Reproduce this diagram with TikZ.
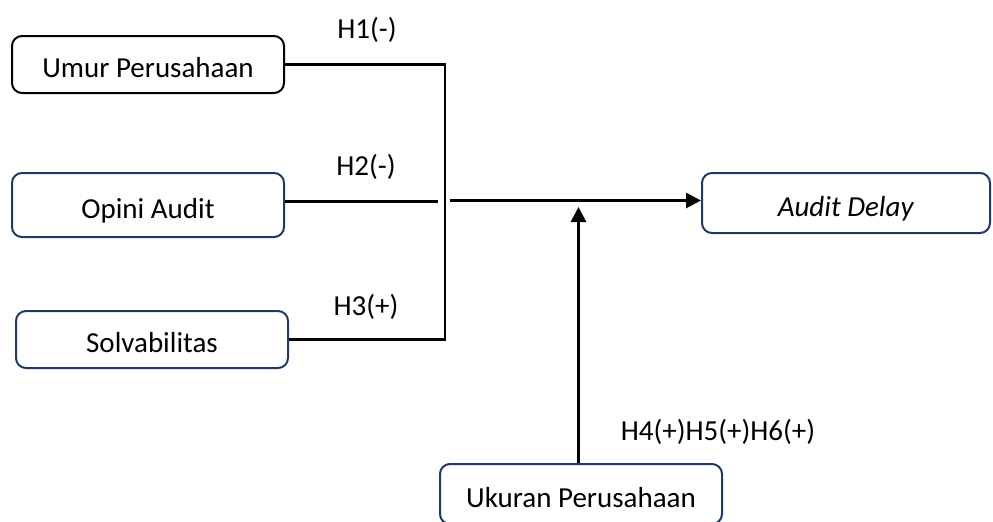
\documentclass[tikz,border=0pt]{standalone}
\usepackage{fontspec}
\setmainfont{Carlito}
\usepackage{tikz}
\usetikzlibrary{arrows.meta, positioning}
\usepackage{xcolor}
\definecolor{boxblue}{RGB}{31,56,100}

\begin{document}
\begin{tikzpicture}[x=0.5pt,y=-0.5pt,
    >={Triangle[length=7.5pt,width=7.5pt]},
    font=\fontsize{14.5}{17}\selectfont]
  \tikzstyle{var}=[draw=boxblue,line width=1pt,rounded corners=5pt,
    minimum width=136pt,minimum height=29pt,inner sep=0pt,
    text height=13pt,text depth=0pt]
  \tikzstyle{hyp}=[inner sep=0pt]
  \tikzstyle{conn}=[draw=black,line width=1.4pt]

  \useasboundingbox (0,0) rectangle (993,521);
  \clip (0,0) rectangle (993,521);

  \node[var,draw=black,minimum height=28.5pt] (umur)   at (148,64.5) {Umur Perusahaan};
  \node[var,minimum height=32pt]              (opini)  at (148,205)  {Opini Audit};
  \node[var,minimum height=28.5pt]            (solv)   at (152,339.5) {Solvabilitas};
  \node[var,minimum width=144pt,minimum height=30pt] (delay) at (846,203)
    {\textit{Audit Delay}\hspace{24pt}};
  \node[var,minimum width=141pt,minimum height=30pt] (ukuran) at (581,494) {Ukuran Perusahaan};

  \coordinate (jx)   at (445,0);
  \coordinate (gapl) at (438,201.5);
  \coordinate (gapr) at (450,200.5);
  \coordinate (tip)  at (578.5,207);

  \node[hyp] (h1)  at (367,30)  {H1(-)};
  \node[hyp] (h2)  at (366,167) {H2(-)};
  \node[hyp] (h3)  at (366,307) {H3(+)};
  \node[hyp] (h46) at (718,432) {H4(+)H5(+)H6(+)};

  \draw[conn] (umur.east) -| (jx |- solv.east) -- (solv.east);
  \draw[conn] (opini.east |- gapl) -- (gapl);
  \draw[conn,->] (gapr) -- (gapr -| delay.west);
  \draw[conn,->] (ukuran.north -| tip) -- (tip);
\end{tikzpicture}
\end{document}
